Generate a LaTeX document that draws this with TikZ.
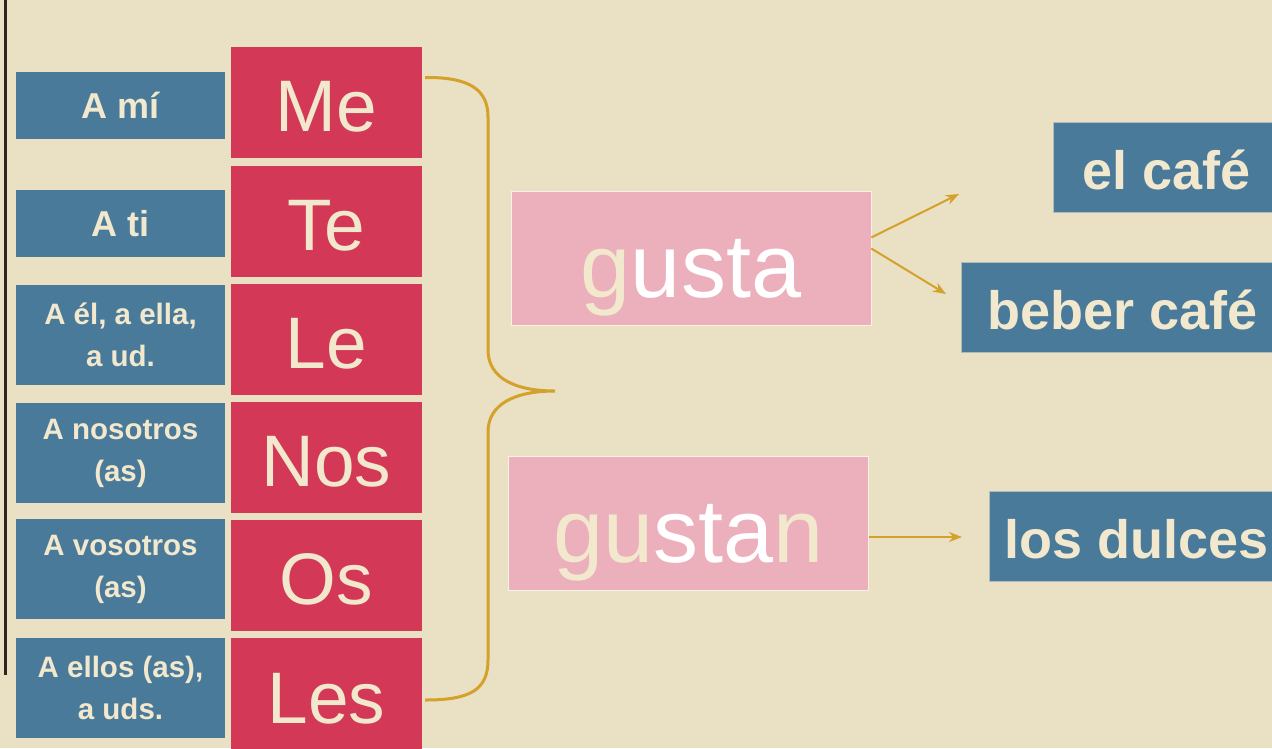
\documentclass[tikz,border=0pt]{standalone}
\usepackage{fontspec}
\setmainfont{Liberation Sans}
\usetikzlibrary{arrows.meta}
\definecolor{paper}{HTML}{EAE0C4}
\definecolor{steel}{HTML}{4A7A9A}
\definecolor{rose}{HTML}{D33957}
\definecolor{blush}{HTML}{ECB0BC}
\definecolor{gold}{HTML}{D4A12B}
\definecolor{cream}{HTML}{F2E8CD}
\definecolor{ink}{HTML}{2B2420}

\begin{document}
\begin{tikzpicture}[x=1pt,y=-1pt,
  who/.style={fill=steel,text=cream,minimum width=209pt,align=center,inner sep=0pt,
    font=\bfseries\fontsize{29.5}{42}\selectfont},
  whoone/.style={who,minimum height=67pt,font=\bfseries\fontsize{36}{42}\selectfont},
  whotwo/.style={who,minimum height=100pt},
  pron/.style={fill=rose,text=cream,minimum width=191pt,minimum height=111pt,inner sep=0pt,
    text height=58pt,text depth=0pt,font=\fontsize{73}{80}\selectfont},
  verb/.style={fill=blush,draw=cream!50!white,line width=0.6pt,minimum width=360pt,
    minimum height=134pt,inner sep=0pt,text height=77pt,text depth=0pt,
    font=\fontsize{90}{96}\selectfont},
  thing/.style={fill=steel,draw=cream!60!steel,line width=0.6pt,text=cream,minimum height=90pt,
    inner sep=0pt,text height=44pt,text depth=0pt,font=\bfseries\fontsize{54}{60}\selectfont},
  brace/.style={draw=gold,line width=3pt},
  link/.style={draw=gold,line width=2pt,-{Stealth[length=13pt,width=10pt]}}]
  \useasboundingbox (0,0) rectangle (1272,748);
  \fill[paper] (0,0) rectangle (1272,748);
  \clip (0,0) rectangle (1272,748);
  \draw[ink,line width=3pt] (5.5,0) -- (5.5,675);
% who
  \node[whoone] (ami) at (120.5,105.5) {A mí};
  \node[whoone] (ati) at (120.5,223.5) {A ti};
  \node[whotwo] (ael) at (120.5,335) {A él, a ella,\\a ud.};
  \node[whotwo] (anos) at (120.5,453) {A nosotros\\(as)};
  \node[whotwo] (avos) at (120.5,569) {A vosotros\\(as)};
  \node[whotwo] (aellos) at (120.5,687.5) {A ellos (as),\\a uds.};
% pronouns
  \node[pron] (me) at (326.5,102.5) {Me};
  \node[pron] (te) at (326.5,221.5) {Te};
  \node[pron] (le) at (326.5,339.5) {Le};
  \node[pron] (nos) at (326.5,457) {Nos};
  \node[pron] (os) at (326.5,575) {Os};
  \node[pron,minimum height=112pt] (les) at (326.5,694) {Les};
% verbs
  \node[verb] (gusta) at (691,258.5) {\textcolor{cream}{g}\textcolor{white}{usta}};
  \node[verb] (gustan) at (688.5,523.5)
    {\textcolor{cream}{gu}\textcolor{white}{sta}\textcolor{cream}{n}};
  \node[thing,minimum width=228pt] (cafe) at (1167,167) {el café};
  \node[thing,minimum width=324pt] (beber) at (1123,307) {beber café};
  \node[thing,minimum width=295pt] (dulces) at (1136.5,536.5) {los dulces};
  \draw[brace] ([shift={(3,-25)}]me.east) .. controls (470,77) and (488,90) .. (488,117)
    -- (488,350) .. controls (488,378) and (515,391) .. (555,391)
    .. controls (515,391) and (488,404) .. (488,432)
    -- (488,660) .. controls (488,690) and (470,700) .. ([shift={(3,6)}]les.east);
  \coordinate (tocafe) at (959,194);
  \coordinate (tobeber) at (946,294);
  \coordinate (todulces) at (962,537);
  \draw[link] ([yshift=21pt]gusta.east) -- (tocafe);
  \draw[link] ([yshift=10pt]gusta.east) -- (tobeber);
  \draw[link] ([yshift=-13.5pt]gustan.east) -- (todulces);
\end{tikzpicture}
\end{document}
